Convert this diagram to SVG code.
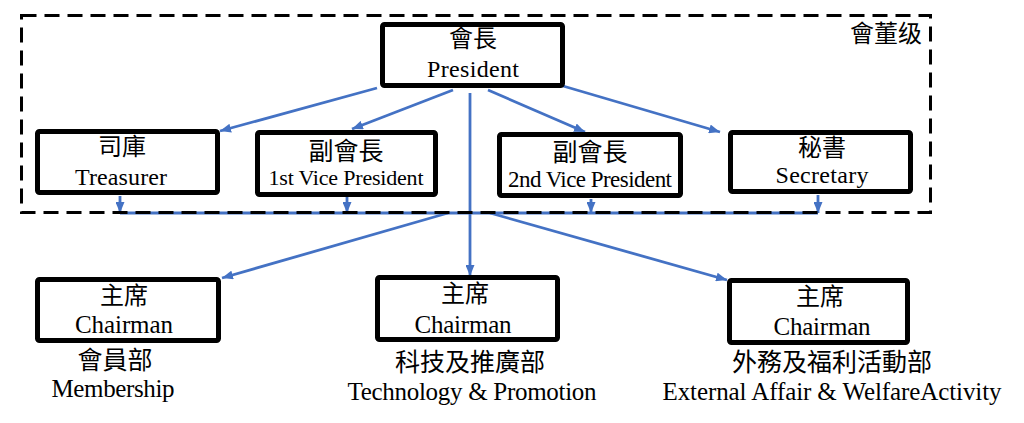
<svg xmlns="http://www.w3.org/2000/svg" width="1024" height="423" viewBox="0 0 1024 423">
<style>
.box{fill:#fff;stroke:#000;stroke-width:5;}
.cn{font-family:"Noto Sans CJK TC","Noto Sans CJK SC",sans-serif;fill:#000;text-anchor:middle;}
.en{font-family:"Liberation Serif","Times New Roman",serif;fill:#000;text-anchor:middle;}
.c{stroke:#4472C4;stroke-width:2.8;fill:none;}
.a{marker-end:url(#arr);}
.region{fill:none;stroke:#000;stroke-width:3;stroke-dasharray:15 8;}
</style>
<defs>
<marker id="arr" markerUnits="userSpaceOnUse" markerWidth="11" markerHeight="9" refX="11" refY="4.5" orient="auto">
<path d="M0,0 L11,4.5 L0,9 z" fill="#4472C4"/>
</marker>
</defs>
<rect width="1024" height="423" fill="#fff"/>
<g id="connectors">
<line class="c a" x1="377" y1="88" x2="220" y2="131"/>
<line class="c a" x1="453" y1="90" x2="352" y2="129"/>
<line class="c a" x1="488" y1="90" x2="585" y2="132"/>
<line class="c a" x1="563" y1="86" x2="720" y2="132"/>
<line class="c a" x1="470" y1="93" x2="470" y2="276"/>
<line class="c a" x1="120" y1="196" x2="120" y2="213"/>
<line class="c a" x1="347" y1="197" x2="347" y2="213"/>
<line class="c a" x1="591" y1="199" x2="591" y2="213"/>
<line class="c a" x1="818" y1="195" x2="818" y2="213"/>
<line class="c" x1="120" y1="213" x2="818" y2="213"/>
<line class="c a" x1="448" y1="213" x2="222" y2="278"/>
<line class="c a" x1="490" y1="213" x2="727" y2="280"/>
</g>
<g id="board">
<rect class="region" x="21.5" y="15.5" width="909" height="197"/>
<text class="cn" x="886" y="42" font-size="24">會董级</text>
</g>
<g id="president">
<rect class="box" x="382.5" y="24.5" width="180" height="61" rx="2"/>
<text class="cn" x="473" y="47" font-size="24">會長</text>
<text class="en" x="473" y="77" font-size="24" textLength="92" lengthAdjust="spacing">President</text>
</g>
<g id="treasurer">
<rect class="box" x="37.5" y="131.5" width="180" height="61" rx="2"/>
<text class="cn" x="122" y="155" font-size="24">司庫</text>
<text class="en" x="121" y="185" font-size="24" textLength="92" lengthAdjust="spacing">Treasurer</text>
</g>
<g id="vp1">
<rect class="box" x="257.5" y="132.5" width="178" height="62" rx="2"/>
<text class="cn" x="346" y="160" font-size="25">副會長</text>
<text class="en" x="346" y="185" font-size="22" textLength="155" lengthAdjust="spacing">1st Vice President</text>
</g>
<g id="vp2">
<rect class="box" x="499.5" y="134.5" width="181" height="61" rx="2"/>
<text class="cn" x="590" y="161" font-size="25">副會長</text>
<text class="en" x="590" y="187" font-size="23" textLength="164" lengthAdjust="spacing">2nd Vice President</text>
</g>
<g id="secretary">
<rect class="box" x="730.5" y="132.5" width="180" height="59" rx="2"/>
<text class="cn" x="822" y="156" font-size="24">秘書</text>
<text class="en" x="822" y="183" font-size="24" textLength="93" lengthAdjust="spacing">Secretary</text>
</g>
<g id="membership">
<rect class="box" x="37.5" y="279.5" width="181" height="61" rx="2"/>
<text class="cn" x="124" y="304" font-size="24">主席</text>
<text class="en" x="124" y="333" font-size="25" textLength="98" lengthAdjust="spacing">Chairman</text>
<text class="cn" x="115" y="369" font-size="25">會員部</text>
<text class="en" x="113" y="397" font-size="25" textLength="123" lengthAdjust="spacing">Membership</text>
</g>
<g id="technology">
<rect class="box" x="377.5" y="277.5" width="180" height="62" rx="2"/>
<text class="cn" x="465" y="302" font-size="24">主席</text>
<text class="en" x="463" y="333" font-size="25" textLength="97" lengthAdjust="spacing">Chairman</text>
<text class="cn" x="470" y="371" font-size="25">科技及推廣部</text>
<text class="en" x="472" y="400" font-size="25" textLength="249" lengthAdjust="spacing">Technology &amp; Promotion</text>
</g>
<g id="external">
<rect class="box" x="729.5" y="280.5" width="178" height="62" rx="2"/>
<text class="cn" x="820" y="305" font-size="24">主席</text>
<text class="en" x="822" y="335" font-size="25" textLength="97" lengthAdjust="spacing">Chairman</text>
<text class="cn" x="832" y="371" font-size="25">外務及福利活動部</text>
<text class="en" x="832" y="400" font-size="25" textLength="339" lengthAdjust="spacing">External Affair &amp; WelfareActivity</text>
</g>
</svg>
